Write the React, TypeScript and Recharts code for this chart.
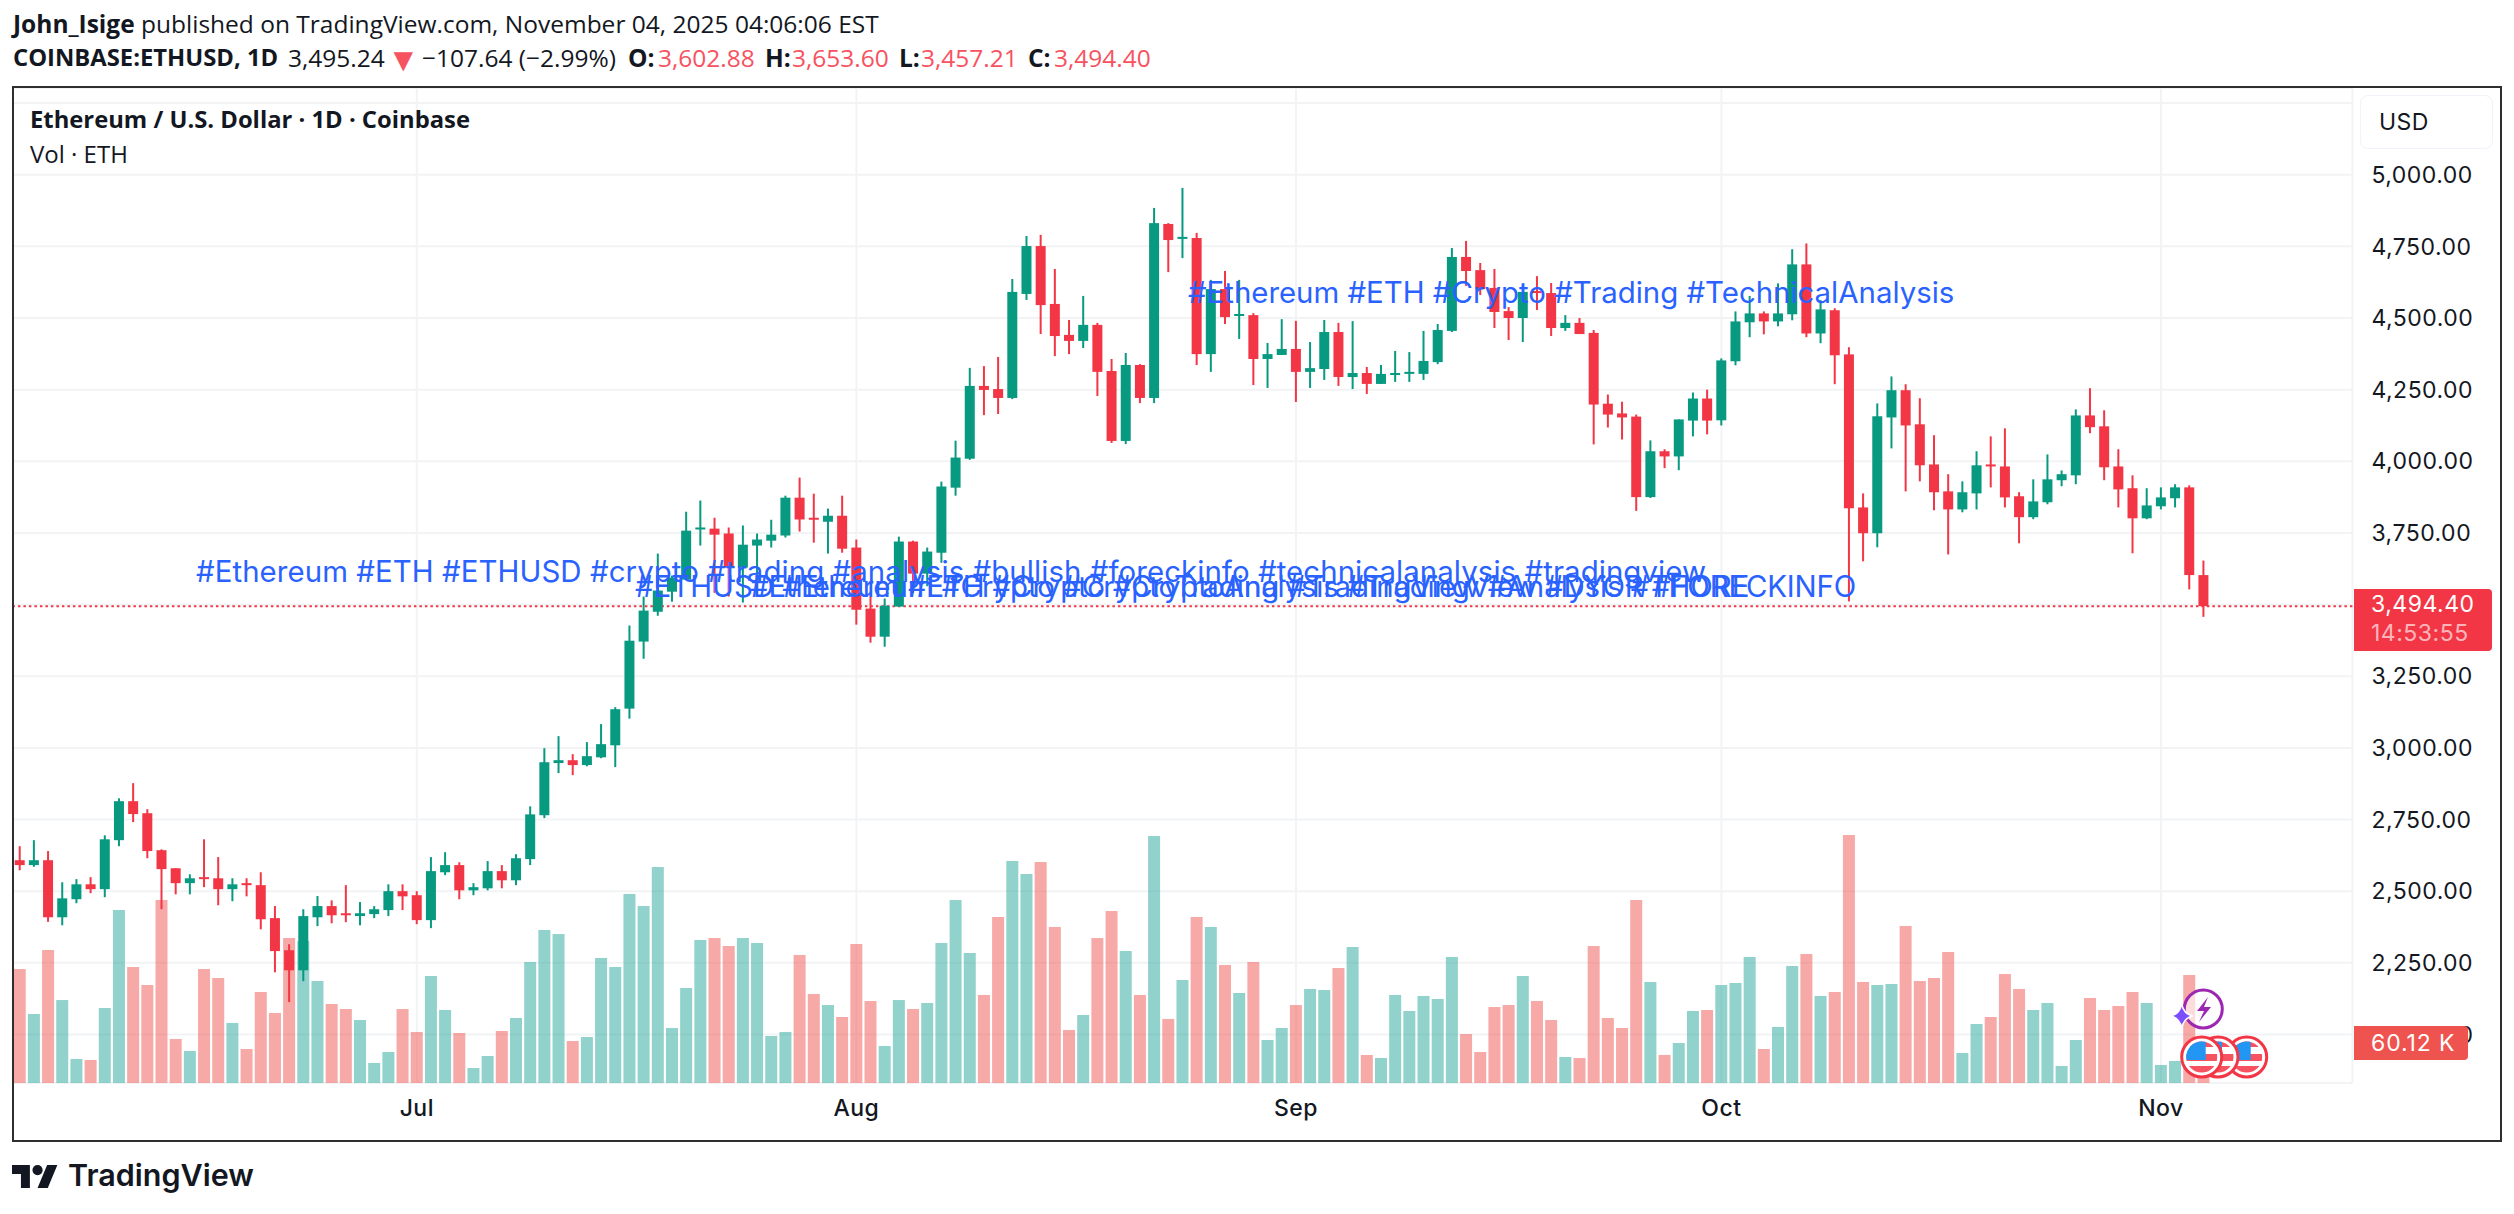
import React from "react"
import { Bar, CartesianGrid, ComposedChart, ReferenceLine, XAxis, YAxis } from "recharts"

const open = [
  2608, 2591, 2608, 2409, 2472, 2524, 2507, 2678, 2814, 2772,
  2643, 2580, 2528, 2549, 2545, 2507, 2528, 2521, 2406, 2294,
  2224, 2409, 2448, 2423, 2413, 2420, 2434, 2500, 2486, 2399,
  2566, 2591, 2503, 2510, 2570, 2538, 2612, 2765, 2947, 2957,
  2940, 2967, 3009, 3137, 3371, 3475, 3545, 3587, 3762, 3765,
  3748, 3629, 3706, 3723, 3741, 3873, 3803, 3789, 3810, 3699,
  3486, 3388, 3493, 3720, 3608, 3681, 3908, 4009, 4263, 4252,
  4221, 4584, 4751, 4549, 4441, 4420, 4476, 4315, 4071, 4336,
  4221, 4828, 4776, 4779, 4374, 4601, 4507, 4510, 4357, 4371,
  4392, 4312, 4322, 4451, 4294, 4308, 4270, 4301, 4305, 4305,
  4346, 4455, 4713, 4667, 4605, 4524, 4500, 4594, 4587, 4465,
  4483, 4448, 4201, 4167, 4156, 3875, 4035, 4017, 4142, 4219,
  4143, 4349, 4485, 4516, 4488, 4513, 4687, 4446, 4527, 4373,
  3839, 3749, 4153, 4248, 4129, 3989, 3895, 3832, 3888, 3989,
  3982, 3878, 3805, 3857, 3934, 3951, 4160, 4122, 3982, 3906,
  3801, 3843, 3871, 3909, 3602.88,
]
const high = [
  2657, 2678, 2640, 2531, 2542, 2549, 2695, 2824, 2877, 2786,
  2646, 2580, 2559, 2681, 2619, 2545, 2545, 2566, 2448, 2315,
  2437, 2483, 2468, 2521, 2462, 2448, 2524, 2524, 2500, 2619,
  2636, 2601, 2528, 2605, 2591, 2629, 2796, 2999, 3041, 2978,
  3020, 3083, 3142, 3427, 3528, 3678, 3601, 3824, 3863, 3803,
  3769, 3776, 3748, 3796, 3880, 3943, 3887, 3835, 3880, 3727,
  3538, 3521, 3737, 3723, 3699, 3929, 4072, 4326, 4332, 4364,
  4636, 4786, 4790, 4671, 4493, 4577, 4483, 4357, 4378, 4339,
  4884, 4831, 4954, 4797, 4633, 4664, 4633, 4517, 4413, 4496,
  4490, 4416, 4493, 4483, 4489, 4329, 4336, 4385, 4381, 4455,
  4479, 4744, 4769, 4692, 4671, 4538, 4619, 4646, 4622, 4510,
  4500, 4458, 4233, 4208, 4163, 4073, 4042, 4146, 4240, 4250,
  4359, 4523, 4577, 4523, 4621, 4740, 4760, 4562, 4534, 4398,
  3888, 4202, 4296, 4269, 4220, 4091, 3955, 3930, 4035, 4087,
  4115, 3892, 3937, 4024, 3968, 4181, 4255, 4178, 4042, 3951,
  3906, 3909, 3920, 3916, 3653.6,
]
const low = [
  2573, 2585, 2393, 2381, 2458, 2493, 2479, 2657, 2741, 2615,
  2437, 2489, 2489, 2514, 2451, 2465, 2482, 2367, 2217, 2113,
  2186, 2378, 2388, 2392, 2381, 2406, 2413, 2434, 2385, 2371,
  2556, 2472, 2486, 2503, 2510, 2521, 2591, 2755, 2912, 2905,
  2936, 2964, 2933, 3102, 3311, 3461, 3510, 3587, 3706, 3541,
  3528, 3507, 3541, 3699, 3734, 3755, 3716, 3678, 3681, 3430,
  3367, 3353, 3493, 3541, 3564, 3646, 3880, 4005, 4161, 4165,
  4217, 4563, 4444, 4367, 4374, 4395, 4228, 4064, 4060, 4203,
  4203, 4660, 4709, 4336, 4312, 4479, 4427, 4266, 4256, 4371,
  4207, 4256, 4284, 4263, 4252, 4235, 4270, 4277, 4277, 4284,
  4339, 4451, 4612, 4580, 4465, 4423, 4416, 4528, 4437, 4455,
  4444, 4059, 4118, 4076, 3827, 3872, 3976, 3969, 4087, 4094,
  4125, 4335, 4433, 4443, 4471, 4492, 4433, 4412, 4269, 3511,
  3651, 3700, 4045, 3895, 3930, 3829, 3675, 3822, 3832, 3909,
  3839, 3714, 3798, 3850, 3913, 3920, 4098, 3934, 3839, 3679,
  3798, 3832, 3839, 3553, 3457.21,
]
const close = [
  2591, 2608, 2409, 2475, 2524, 2507, 2681, 2814, 2769, 2640,
  2577, 2528, 2545, 2542, 2507, 2524, 2521, 2402, 2291, 2224,
  2413, 2448, 2416, 2416, 2423, 2437, 2500, 2482, 2399, 2570,
  2591, 2503, 2514, 2570, 2538, 2615, 2768, 2950, 2957, 2940,
  2971, 3013, 3135, 3374, 3479, 3549, 3594, 3758, 3769, 3744,
  3629, 3709, 3727, 3744, 3873, 3797, 3797, 3810, 3695, 3482,
  3388, 3496, 3720, 3608, 3685, 3912, 4013, 4263, 4249, 4221,
  4591, 4751, 4545, 4437, 4420, 4476, 4312, 4071, 4336, 4221,
  4831, 4772, 4783, 4374, 4601, 4503, 4514, 4357, 4374, 4392,
  4312, 4325, 4451, 4294, 4308, 4270, 4305, 4308, 4312, 4350,
  4458, 4713, 4664, 4601, 4521, 4500, 4591, 4587, 4465, 4483,
  4444, 4198, 4163, 4153, 3875, 4035, 4017, 4146, 4219, 4142,
  4352, 4488, 4516, 4488, 4516, 4687, 4446, 4530, 4370, 3836,
  3749, 4157, 4248, 4125, 3986, 3892, 3832, 3892, 3986, 3982,
  3874, 3805, 3860, 3937, 3955, 4160, 4119, 3979, 3902, 3801,
  3846, 3874, 3909, 3603, 3494.4,
]
// thousands of ETH
const volume = [
  171.3, 103.7, 199.9, 124.7, 36.1, 34.6, 112.7, 260.0, 174.3, 147.3,
  275.0, 66.1, 48.1, 171.3, 157.8, 90.2, 51.1, 136.8, 105.2, 217.9,
  213.4, 153.3, 118.7, 111.2, 94.7, 30.1, 46.6, 111.2, 76.7, 160.8,
  109.7, 75.2, 22.5, 40.6, 78.2, 97.7, 181.9, 230.0, 223.9, 63.1,
  69.1, 187.9, 174.3, 284.1, 266.0, 324.6, 82.7, 142.8, 214.9, 217.9,
  205.9, 217.9, 210.4, 70.6, 76.7, 192.4, 133.8, 117.2, 99.2, 208.9,
  123.2, 55.6, 124.7, 111.2, 120.2, 210.4, 275.0, 195.4, 132.3, 249.5,
  333.7, 314.1, 332.2, 234.5, 79.7, 102.2, 217.9, 258.5, 198.4, 132.3,
  371.2, 96.2, 154.8, 249.5, 234.5, 177.4, 135.3, 181.9, 64.6, 82.7,
  117.2, 141.3, 139.8, 172.8, 204.4, 42.1, 37.6, 132.3, 108.2, 130.8,
  126.3, 189.4, 73.6, 46.6, 114.2, 117.2, 160.8, 123.2, 94.7, 39.1,
  37.6, 205.9, 97.7, 82.7, 275.0, 151.8, 42.1, 60.1, 108.2, 109.7,
  147.3, 150.3, 189.4, 51.1, 84.2, 175.9, 193.9, 130.8, 136.8, 372.7,
  151.8, 147.3, 148.8, 236.0, 153.3, 157.8, 196.9, 45.1, 88.7, 99.2,
  163.8, 141.3, 109.7, 120.2, 25.6, 64.6, 127.8, 109.7, 115.7, 136.8,
  120.2, 27.1, 33.1, 162.3, 60.12,
]

const priceTicks = [2000, 2250, 2500, 2750, 3000, 3250, 3500, 3750, 4000, 4250, 4500, 4750, 5000, 5250]
const monthTicks = ["2025-07-01", "2025-08-01", "2025-09-01", "2025-10-01", "2025-11-01"]
const monthLabels: Record<string, string> = {
  "2025-07-01": "Jul",
  "2025-08-01": "Aug",
  "2025-09-01": "Sep",
  "2025-10-01": "Oct",
  "2025-11-01": "Nov",
}
const lastPrice = 3494.4

const GREEN = "#089981"
const RED = "#f23645"
const BLUE = "#2962ff"
const INK = "#131722"
const UI_FONT = "'Open Sans', sans-serif"
const AXIS_FONT = "Inter, sans-serif"

const W = 2514
const H = 1214
const PLOT_LEFT = 12.7
const AXIS_W = 161.6
const PLOT_TOP = 88
const AXIS_H = 131
const PRICE_DOMAIN = [1830.7, 5302.5]
const VOLUME_DOMAIN = [0, 1495.5]

// 155 sessions from Jun 3, then empty room on the right of the last bar
const chartData = Array.from({ length: 165 }, (_, i) => {
  const date = new Date(Date.UTC(2025, 5, 3 + i)).toISOString().slice(0, 10)
  if (i >= open.length) return { date }
  return {
    date,
    open: open[i],
    high: high[i],
    low: low[i],
    close: close[i],
    range: [low[i], high[i]],
    volume: volume[i],
  }
})

function Candle(props: any) {
  const { x, y, width, height, payload } = props
  if (payload.open == null) return null
  const top = Math.min(y, y + height)
  const perUnit = Math.abs(height) / (payload.high - payload.low)
  const toY = (v: number) => top + (payload.high - v) * perUnit
  const color = payload.close >= payload.open ? GREEN : RED
  const bodyTop = toY(Math.max(payload.open, payload.close))
  const bodyBottom = toY(Math.min(payload.open, payload.close))
  const mid = x + width / 2
  return (
    <g>
      <rect x={mid - 1} y={top} width={2} height={Math.abs(height)} fill={color} />
      <rect x={x} y={bodyTop} width={width} height={Math.max(bodyBottom - bodyTop, 2)} fill={color} />
    </g>
  )
}

function VolumeBar(props: any) {
  const { x, y, width, height, payload } = props
  if (payload.open == null) return null
  const color = payload.close >= payload.open ? "#26a69a" : "#ef5350"
  return <rect x={x} y={y} width={width} height={height} fill={color} fillOpacity={0.5} />
}

function Label({ x, y, children, style }: any) {
  return (
    <div
      style={{
        position: "absolute",
        left: x,
        top: y,
        whiteSpace: "pre",
        lineHeight: 1,
        transform: "translateY(-50%)",
        ...style,
      }}
    >
      {children}
    </div>
  )
}

function Flag({ cx, cy }: { cx: number; cy: number }) {
  const id = `flag-${cx}`
  return (
    <g>
      <circle cx={cx} cy={cy} r={20} fill="#fff" stroke={RED} strokeWidth={3} />
      <clipPath id={id}>
        <circle cx={cx} cy={cy} r={15.5} />
      </clipPath>
      <g clipPath={`url(#${id})`}>
        <rect x={cx - 16} y={cy - 16} width={32} height={32} fill="#fff" />
        <rect x={cx - 16} y={cy - 16} width={32} height={6} fill="#f7525f" />
        <rect x={cx - 16} y={cy - 3} width={32} height={7} fill="#f7525f" />
        <rect x={cx - 16} y={cy + 9} width={32} height={7} fill="#f7525f" />
        <rect x={cx - 16} y={cy - 16} width={20} height={19} fill="#2196f3" />
      </g>
    </g>
  )
}

function EventIcons() {
  return (
    <svg width={W} height={H} style={{ position: "absolute", left: 0, top: 0, pointerEvents: "none" }}>
      <Flag cx={2246.7} cy={1057} />
      <Flag cx={2218} cy={1057} />
      <Flag cx={2201.7} cy={1057} />
      <circle cx={2203.3} cy={1009} r={19} fill="#fff" fillOpacity={0.6} stroke="#9c27b0" strokeWidth={3} />
      <path d="M2208 997 l-11 14 h7 l-5 11 l12 -15 h-7 z" fill="#9c27b0" />
      <path d="M2181.7 1004 q2 10 11 12 q-9 2 -11 12 q-2 -10 -11 -12 q9 -2 11 -12 z" fill="#7c4dff" stroke="#fff" strokeWidth={1.5} />
    </svg>
  )
}

export default function App() {
  const header = { fontFamily: UI_FONT, fontSize: 24.5, color: INK }
  const bold = { ...header, fontWeight: 700 }
  const redValue = { ...header, color: "#f7525f" }
  const hashtag = { fontFamily: AXIS_FONT, fontSize: 29.4, color: BLUE }
  const tag = { fontFamily: AXIS_FONT, fontSize: 23, letterSpacing: 0.5, color: "#fff" }
  return (
    <div style={{ position: "absolute", left: 0, top: 0, width: W, height: H, background: "#fff", overflow: "hidden" }}>
      <div style={{ position: "absolute", left: 0, top: 0 }}>
        <ComposedChart
          width={W}
          height={H}
          data={chartData}
          barCategoryGap={0}
          margin={{ top: PLOT_TOP, right: 0, bottom: 0, left: PLOT_LEFT }}
        >
          <CartesianGrid stroke="#f2f3f5" strokeWidth={2} yAxisId="price" />
          <XAxis
            dataKey="date"
            ticks={monthTicks}
            interval={0}
            height={AXIS_H}
            axisLine={false}
            tickLine={false}
            tickMargin={11}
            tick={{ fill: INK, fontSize: 23, fontFamily: AXIS_FONT, fontWeight: 500, letterSpacing: 0.5 }}
            tickFormatter={(v: string) => monthLabels[v]}
          />
          <YAxis
            yAxisId="price"
            orientation="right"
            width={AXIS_W}
            domain={PRICE_DOMAIN}
            ticks={priceTicks}
            interval={0}
            allowDataOverflow
            axisLine={false}
            tickLine={false}
            tickMargin={13}
            tick={{ fill: INK, fontSize: 23, fontFamily: AXIS_FONT, letterSpacing: 0.5 }}
            // the 5,250 label sits behind the currency button
            tickFormatter={(v: number) => (v === 5250 ? "" : v.toLocaleString("en-US", { minimumFractionDigits: 2 }))}
          />
          <YAxis yAxisId="volume" hide domain={VOLUME_DOMAIN} allowDataOverflow />
          <ReferenceLine yAxisId="price" y={lastPrice} stroke={RED} strokeWidth={2} strokeDasharray="2.5 3" />
          <Bar yAxisId="volume" dataKey="volume" barSize={12} shape={VolumeBar} isAnimationActive={false} />
        </ComposedChart>
      </div>

      <div style={{ position: "absolute", left: 0, top: 0 }}>
        <ComposedChart
          width={W}
          height={H}
          data={chartData}
          barCategoryGap={0}
          margin={{ top: PLOT_TOP, right: AXIS_W, bottom: AXIS_H, left: PLOT_LEFT }}
        >
          <XAxis dataKey="date" hide />
          <YAxis hide domain={PRICE_DOMAIN} allowDataOverflow />
          <Bar dataKey="range" barSize={10} shape={Candle} isAnimationActive={false} />
        </ComposedChart>
      </div>

      <EventIcons />

      {/* frame around the pane */}
      <div style={{ position: "absolute", left: 12, top: 86, width: 2486, height: 1052, border: "2.5px solid #2e2e2e" }} />

      {/* published-by header */}
      <Label x={13} y={24} style={header}>
        <b>John_Isige</b> published on TradingView.com, November 04, 2025 04:06:06 EST
      </Label>
      <Label x={13} y={58} style={{ ...bold, fontSize: 23.8 }}>COINBASE:ETHUSD, 1D</Label>
      <Label x={288} y={58} style={header}>3,495.24</Label>
      <Label x={387} y={58} style={{ ...redValue, fontSize: 33 }}>▼</Label>
      <Label x={422} y={58} style={header}>−107.64 (−2.99%)</Label>
      <Label x={628} y={58} style={bold}>O:</Label>
      <Label x={658} y={58} style={redValue}>3,602.88</Label>
      <Label x={765} y={58} style={bold}>H:</Label>
      <Label x={792} y={58} style={redValue}>3,653.60</Label>
      <Label x={899} y={58} style={bold}>L:</Label>
      <Label x={921} y={58} style={redValue}>3,457.21</Label>
      <Label x={1028} y={58} style={bold}>C:</Label>
      <Label x={1054} y={58} style={redValue}>3,494.40</Label>

      {/* legend */}
      <Label x={30} y={120} style={{ fontFamily: UI_FONT, fontSize: 23.8, fontWeight: 700, color: INK }}>
        Ethereum / U.S. Dollar · 1D · Coinbase
      </Label>
      <Label x={30} y={154} style={{ fontFamily: UI_FONT, fontSize: 24, color: INK }}>
        Vol · ETH
      </Label>

      {/* idea hashtags lying over the candles */}
      <Label x={1188} y={293} style={hashtag}>
        #Ethereum #ETH #Crypto #Trading #TechnicalAnalysis
      </Label>
      <Label x={196} y={572} style={{ ...hashtag, letterSpacing: 0.08 }}>
        #Ethereum #ETH #ETHUSD #crypto #trading #analysis #bullish #foreckinfo #technicalanalysis #tradingview
      </Label>
      <Label x={635} y={587} style={hashtag}>
        #ETHUSD #Ethereum #Crypto #CryptoTrading #TradingView #Analysis #THORE
      </Label>
      <Label x={750} y={587} style={{ ...hashtag, letterSpacing: -0.15 }}>
        #Ethereum #ETH #Crypto #CryptoAnalysis #TradingView #DYOR #FORECKINFO
      </Label>

      {/* currency button */}
      <div
        style={{
          position: "absolute",
          left: 2360,
          top: 95,
          width: 131,
          height: 52,
          background: "#fff",
          border: "1px solid #f0f3fa",
          borderRadius: 8,
        }}
      />
      <Label x={2379} y={122} style={{ fontFamily: AXIS_FONT, fontSize: 23, letterSpacing: 0.5, color: INK }}>
        USD
      </Label>

      {/* last price and volume tags */}
      <div style={{ position: "absolute", left: 2354, top: 589, width: 138, height: 62, background: RED, borderRadius: "0 4px 4px 0" }} />
      <Label x={2371} y={604} style={tag}>3,494.40</Label>
      <Label x={2371} y={633} style={{ ...tag, color: "rgba(255,255,255,0.65)" }}>14:53:55</Label>
      <div style={{ position: "absolute", left: 2354, top: 1026, width: 114, height: 34, background: "#ef5350", borderRadius: "0 4px 4px 0" }} />
      <Label x={2371} y={1043} style={{ ...tag, letterSpacing: 0.9 }}>60.12 K</Label>

      {/* TradingView logo */}
      <svg width={46} height={23} viewBox="0 4 36 18" style={{ position: "absolute", left: 12, top: 1165 }}>
        <path d="M14 22H7V11H0V4h14v18zM28 22h-8l7.5-18h8L28 22z" fill={INK} />
        <circle cx={20} cy={8} r={4} fill={INK} />
      </svg>
      <Label x={68} y={1175} style={{ fontFamily: AXIS_FONT, fontSize: 30.5, fontWeight: 600, color: INK }}>
        TradingView
      </Label>
    </div>
  )
}
